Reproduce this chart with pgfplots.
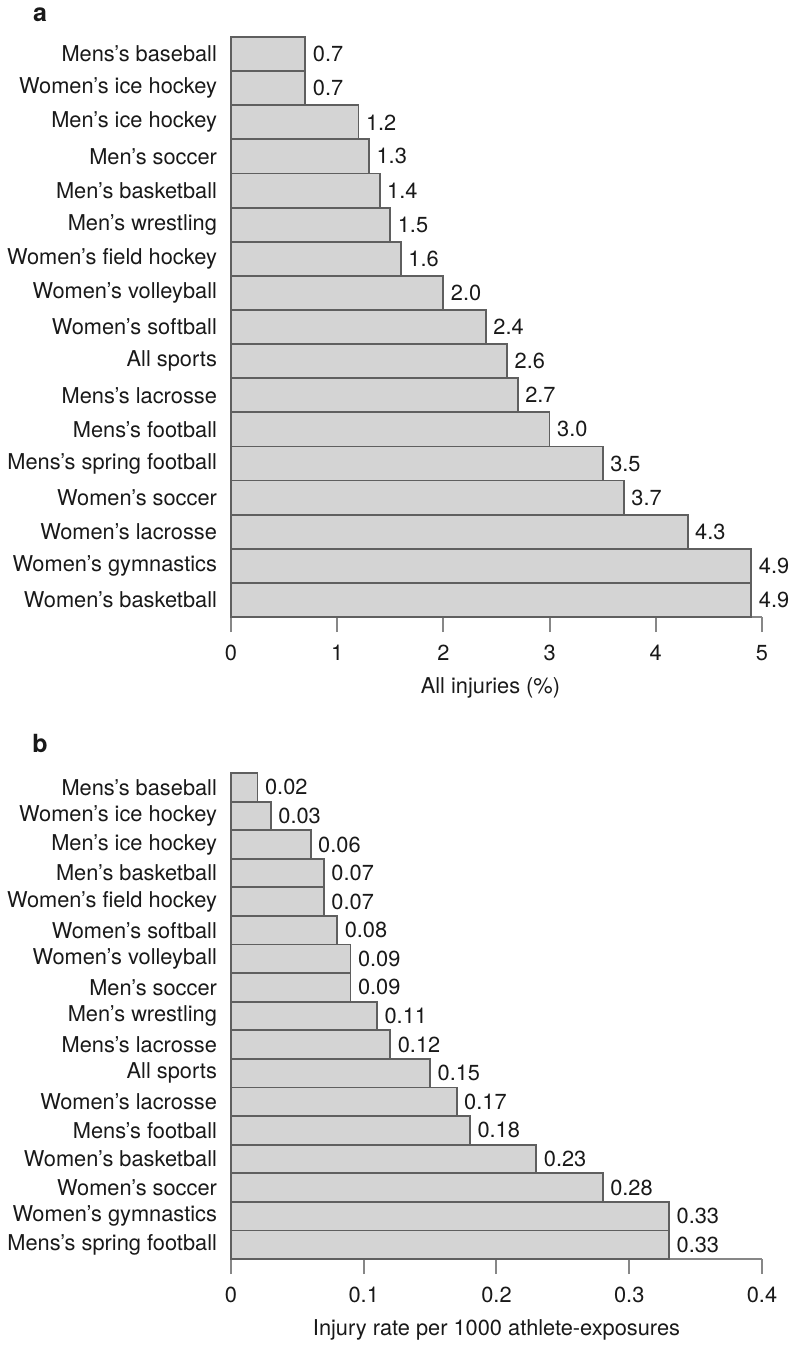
\documentclass[border=0pt]{standalone}
\usepackage{fontspec}
\setmainfont{TeX Gyre Heros}
\usepackage{pgfplots}
\usepackage{pgfplotstable}
\pgfplotsset{compat=1.18}

\definecolor{barfill}{RGB}{212,212,212}
\definecolor{baredge}{RGB}{95,95,95}
\definecolor{axisgray}{RGB}{135,135,135}
\definecolor{txt}{RGB}{25,25,25}

\newcommand\chartfont{\fontsize{10.9}{13}\selectfont}

% Share of all injuries, listed from the bottom bar to the top bar
\pgfplotstableread[col sep=comma]{
sport,val
Women’s basketball,4.9
Women’s gymnastics,4.9
Women’s lacrosse,4.3
Women’s soccer,3.7
Mens’s spring football,3.5
Mens’s football,3.0
Mens’s lacrosse,2.7
All sports,2.6
Women’s softball,2.4
Women’s volleyball,2.0
Women’s field hockey,1.6
Men’s wrestling,1.5
Men’s basketball,1.4
Men’s soccer,1.3
Men’s ice hockey,1.2
Women’s ice hockey,0.7
Mens’s baseball,0.7
}\injuries

% Injury rate per 1000 athlete-exposures, bottom bar first
\pgfplotstableread[col sep=comma]{
sport,val
Mens’s spring football,0.33
Women’s gymnastics,0.33
Women’s soccer,0.28
Women’s basketball,0.23
Mens’s football,0.18
Women’s lacrosse,0.17
All sports,0.15
Mens’s lacrosse,0.12
Men’s wrestling,0.11
Men’s soccer,0.09
Women’s volleyball,0.09
Women’s softball,0.08
Women’s field hockey,0.07
Men’s basketball,0.07
Men’s ice hockey,0.06
Women’s ice hockey,0.03
Mens’s baseball,0.02
}\rates

\pgfplotsset{
  sportbars/.style={
    scale only axis,
    width=265.5pt,
    anchor=south west,
    axis x line=bottom,
    axis y line=left,
    x axis line style={-, draw=axisgray, line width=1pt},
    y axis line style={draw=none},
    xtick style={draw=axisgray, line width=1pt},
    ytick style={draw=none},
    tick align=outside,
    major tick length=7.5pt,
    ymin=-0.5, ymax=16.5,
    ytick={0,...,16},
    xmin=0,
    clip=false,
    /pgf/number format/assume math mode=true,
    tick label style={font=\chartfont, text=txt},
    xticklabel style={yshift=-3pt},
    yticklabel style={xshift=4pt},
    label style={font=\chartfont, text=txt},
    xlabel style={at={(axis description cs:0.5,0)}, anchor=center, yshift=-35.5pt},
    xbar,
    bar width=1,
    point meta=x,
    every node near coord/.append style={font=\chartfont, text=txt, anchor=west},
  },
  sportbar/.style={fill=barfill, draw=baredge, line width=0.9pt},
}

\begin{document}
\begin{tikzpicture}
\useasboundingbox (0pt,0pt) rectangle (397.5pt,-673pt);

\node[font=\bfseries\fontsize{12.5}{15}\selectfont, text=txt] at (20pt,-7.5pt) {a};
\node[font=\bfseries\fontsize{12.5}{15}\selectfont, text=txt] at (20pt,-371.5pt) {b};

\begin{axis}[
  sportbars,
  at={(115.5pt,-308.5pt)},
  height=290pt,
  xmax=5,
  xtick={0,1,2,3,4,5},
  yticklabels from table={\injuries}{sport},
  xlabel={All injuries (\%)},
  xlabel style={xshift=-3pt},
  nodes near coords={\pgfmathprintnumber[fixed,fixed zerofill,precision=1]{\pgfplotspointmeta}},
]
\addplot[sportbar] table[x=val, y expr=\coordindex] {\injuries};
\end{axis}

\begin{axis}[
  sportbars,
  at={(115.5pt,-629.5pt)},
  height=243pt,
  xmax=0.4,
  xtick={0,0.1,0.2,0.3,0.4},
  xticklabels={0,0.1,0.2,0.3,0.4},
  yticklabels from table={\rates}{sport},
  xlabel={Injury rate per 1000 athlete-exposures},
  nodes near coords={\pgfmathprintnumber[fixed,fixed zerofill,precision=2]{\pgfplotspointmeta}},
]
\addplot[sportbar] table[x=val, y expr=\coordindex] {\rates};
\end{axis}
\end{tikzpicture}
\end{document}
